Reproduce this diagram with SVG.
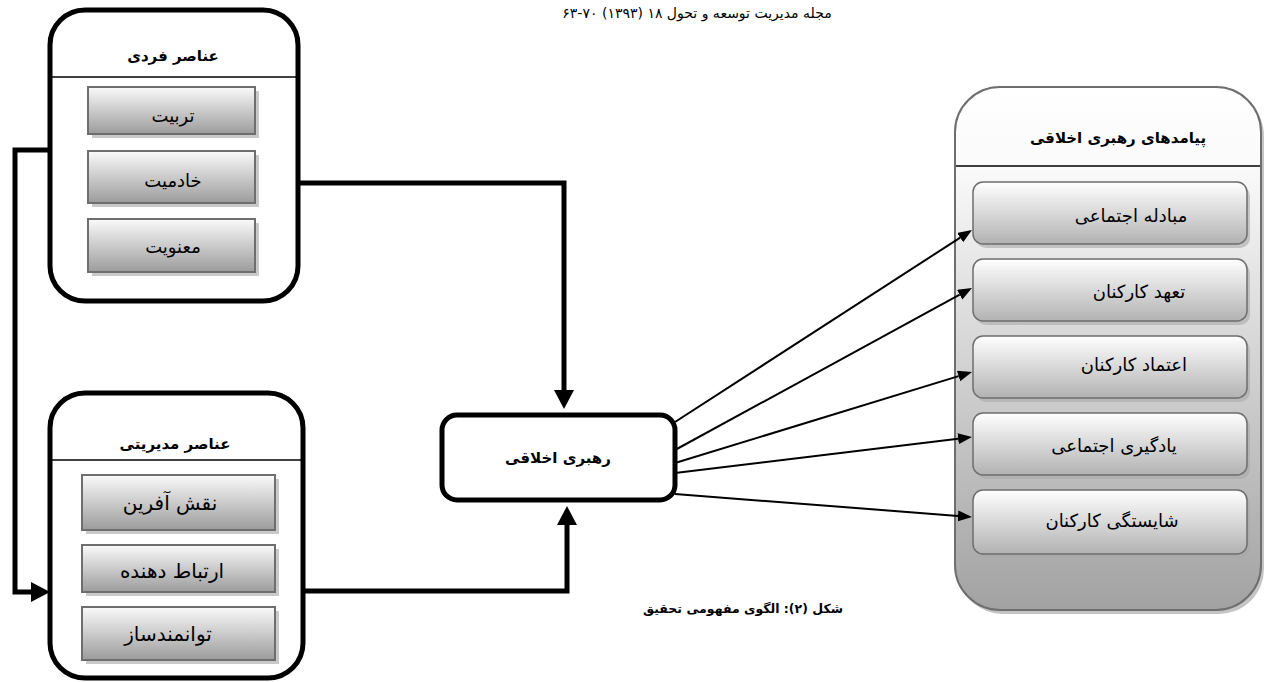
<svg xmlns="http://www.w3.org/2000/svg" width="1264" height="682" viewBox="0 0 1264 682">
<style>
text{font-family:"DejaVu Sans","Noto Sans",sans-serif;fill:#000;text-anchor:middle;direction:rtl}
.ttl{font-size:15px;font-weight:bold}
.itmL{font-size:18px}
.itmM{font-size:20px}
.itmR{font-size:18px}
.hdr{font-size:14px}
.cap{font-size:12.5px;font-weight:bold}
.outer{fill:#fff;stroke:#000;stroke-width:5}
.div{stroke:#000;stroke-width:1.5}
.lbox{fill:url(#gL);stroke:#6e6e6e;stroke-width:2}
.lsh{fill:#c9c9c9}
.rbox{fill:url(#gR);stroke:#6e6e6e;stroke-width:1.5}
.rsh{fill:#a8a8a8;opacity:.6}
.thick{fill:none;stroke:#000;stroke-width:5}
.thin{fill:none;stroke:#000;stroke-width:2}
</style>
<defs>
<linearGradient id="gL" x1="0" y1="0" x2="0" y2="1"><stop offset="0" stop-color="#fafafa"/><stop offset="1" stop-color="#9c9c9c"/></linearGradient>
<linearGradient id="gR" x1="0" y1="0" x2="0" y2="1"><stop offset="0" stop-color="#ffffff"/><stop offset="1" stop-color="#b2b2b2"/></linearGradient>
<linearGradient id="gP" x1="0" y1="0" x2="0" y2="1"><stop offset="0" stop-color="#ffffff"/><stop offset="0.15" stop-color="#fafafa"/><stop offset="1" stop-color="#a2a2a2"/></linearGradient>
<marker id="aBig" markerUnits="userSpaceOnUse" markerWidth="20" markerHeight="20" refX="0" refY="10" orient="auto"><path d="M0,0 L19,10 L0,20 z" fill="#000"/></marker>
<marker id="aSm" markerUnits="userSpaceOnUse" markerWidth="14" markerHeight="12" refX="0" refY="5.5" orient="auto"><path d="M0,0 L14,5.5 L0,11 z" fill="#000"/></marker>
</defs>
<rect width="1264" height="682" fill="#fff"/>
<text class="hdr" x="697" y="18">مجله مدیریت توسعه و تحول ۱۸ (۱۳۹۳) ۷۰-۶۳</text>

<g id="individual">
<rect class="outer" x="50" y="10" width="248" height="291" rx="35"/>
<line class="div" x1="52" y1="77" x2="296" y2="77"/>
<text class="ttl" x="173" y="61">عناصر فردی</text>
<rect class="lsh" x="92" y="91" width="167" height="47"/>
<rect class="lbox" x="88" y="87" width="167" height="47"/>
<text class="itmL" x="173" y="122">تربیت</text>
<rect class="lsh" x="92" y="155" width="167" height="52"/>
<rect class="lbox" x="88" y="151" width="167" height="52"/>
<text class="itmL" x="173" y="187">خادمیت</text>
<rect class="lsh" x="92" y="223" width="167" height="53"/>
<rect class="lbox" x="88" y="219" width="167" height="53"/>
<text class="itmL" x="173" y="253">معنویت</text>
</g>

<g id="managerial">
<rect class="outer" x="50" y="393" width="253" height="285" rx="35"/>
<line class="div" x1="52" y1="460" x2="301" y2="460"/>
<text class="ttl" x="175" y="449">عناصر مدیریتی</text>
<rect class="lsh" x="86" y="479" width="193" height="55"/>
<rect class="lbox" x="82" y="475" width="193" height="55"/>
<text class="itmM" x="170" y="510">نقش آفرین</text>
<rect class="lsh" x="86" y="549" width="193" height="47"/>
<rect class="lbox" x="82" y="545" width="193" height="47"/>
<text class="itmM" x="172" y="578">ارتباط دهنده</text>
<rect class="lsh" x="86" y="611" width="193" height="53"/>
<rect class="lbox" x="82" y="607" width="193" height="53"/>
<text class="itmM" x="168" y="641">توانمندساز</text>
</g>

<g id="ethical-leadership">
<rect class="outer" x="442" y="415" width="233" height="85" rx="15"/>
<text class="ttl" x="558" y="463">رهبری اخلاقی</text>
</g>

<g id="outcomes">
<rect x="958" y="91" width="306" height="523" rx="45" fill="#c4c4c4"/>
<rect x="955" y="87" width="306" height="523" rx="45" fill="url(#gP)" stroke="#6e6e6e" stroke-width="2"/>
<line class="div" x1="956" y1="166" x2="1260" y2="166"/>
<text class="ttl" x="1118" y="143">پیامدهای رهبری اخلاقی</text>
<rect class="rsh" x="976" y="186" width="274" height="62" rx="10"/>
<rect class="rbox" x="973" y="182" width="274" height="62" rx="10"/>
<text class="itmR" x="1131" y="222">مبادله اجتماعی</text>
<rect class="rsh" x="976" y="263" width="274" height="62" rx="10"/>
<rect class="rbox" x="973" y="259" width="274" height="62" rx="10"/>
<text class="itmR" x="1139" y="298">تعهد کارکنان</text>
<rect class="rsh" x="976" y="340" width="274" height="62" rx="10"/>
<rect class="rbox" x="973" y="336" width="274" height="62" rx="10"/>
<text class="itmR" x="1134" y="371">اعتماد کارکنان</text>
<rect class="rsh" x="976" y="417" width="274" height="62" rx="10"/>
<rect class="rbox" x="973" y="413" width="274" height="62" rx="10"/>
<text class="itmR" x="1114" y="452">یادگیری اجتماعی</text>
<rect class="rsh" x="976" y="494" width="274" height="64" rx="10"/>
<rect class="rbox" x="973" y="490" width="274" height="64" rx="10"/>
<text class="itmR" x="1112" y="527">شایستگی کارکنان</text>
</g>

<g id="connectors">
<path class="thick" d="M298,183 H564 V390" marker-end="url(#aBig)"/>
<path class="thick" d="M303,591 H567 V525" marker-end="url(#aBig)"/>
<path class="thick" d="M50,150 H15 V592 H31" marker-end="url(#aBig)"/>
<path class="thin" d="M675,422 L960.2,237.6" marker-end="url(#aSm)"/>
<path class="thin" d="M675,450 L959.7,294.7" marker-end="url(#aSm)"/>
<path class="thin" d="M675,463 L958.6,376.1" marker-end="url(#aSm)"/>
<path class="thin" d="M675,473 L958.1,438.7" marker-end="url(#aSm)"/>
<path class="thin" d="M675,494 L958,515.9" marker-end="url(#aSm)"/>
</g>

<text class="cap" x="743" y="613">شکل (۲): الگوی مفهومی تحقیق</text>
</svg>
